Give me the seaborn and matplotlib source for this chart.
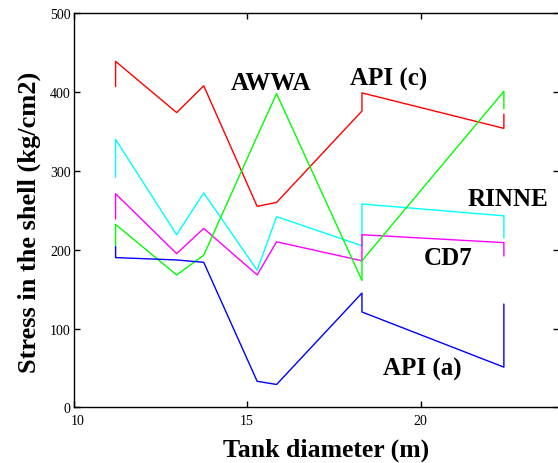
import numpy as np
import pandas as pd
import matplotlib
matplotlib.use('Agg')
import matplotlib.pyplot as plt
import matplotlib.transforms as mtransforms
import seaborn as sns

sns.set_style('ticks')
plt.rcParams['font.family'] = ['Liberation Serif', 'DejaVu Serif']
plt.rcParams['text.color'] = 'black'
plt.rcParams['xtick.color'] = 'black'
plt.rcParams['ytick.color'] = 'black'

# tank diameters (m); each jump is drawn as a vertical step at the same diameter
diam = [11.21, 11.21, 12.97, 13.75, 15.29, 15.85, 18.31, 18.31, 22.40, 22.40]

api_c = [407, 439, 374, 408, 255, 260, 376, 399, 354, 372]
rinne = [292, 340, 219, 272, 174, 242, 205, 258, 243, 215]
cd7 = [239, 271, 195, 227, 168, 210, 186, 219, 209, 192]
awwa = [205, 232, 168, 193, 344, 398, 161, 186, 401, 379]
api_a = [204, 190, 187, 184, 33, 29, 145, 121, 51, 131]

names = ['API (c)', 'RINNE', 'CD7', 'AWWA', 'API (a)']
series = [api_c, rinne, cd7, awwa, api_a]
colors = ['#ff0000', '#00ffff', '#ff00ff', '#00ff00', '#0000ff']

df = pd.concat([pd.DataFrame({'diam': diam, 'stress': s, 'method': n})
                for n, s in zip(names, series)], ignore_index=True)

fig = plt.figure(figsize=(5.58, 4.64), dpi=100)
ax = fig.add_axes([0.1319, 0.12, 0.8706, 0.8492])

sns.lineplot(data=df, x='diam', y='stress', hue='method', palette=dict(zip(names, colors)),
             sort=False, estimator=None, legend=False, linewidth=1.0, ax=ax)

# curve labels (left / baseline position in data units)
labels = {'AWWA': (14.52, 404), 'API (c)': (17.96, 410), 'RINNE': (21.35, 257),
          'CD7': (20.08, 182), 'API (a)': (18.93, 41)}
for txt, (lx, ly) in labels.items():
    ax.text(lx, ly, txt, fontsize=18, fontweight='bold', ha='left', va='baseline',
            color='black')

ax.set_xlim(10, 24)
ax.set_ylim(0, 500)
ax.set_xticks([10, 15, 20])
ax.set_yticks([0, 100, 200, 300, 400, 500])
ax.tick_params(direction='in', length=4.5, width=1, labelsize=10, top=True, right=True)
ax.tick_params(axis='y', pad=2)
ax.tick_params(axis='x', pad=4.5)
for sp in ax.spines.values():
    sp.set_linewidth(1)
    sp.set_color('black')

# the "10" sits a little right of its tick, clear of the "0"
fig.canvas.draw()
first = ax.get_xticklabels()[0]
first.set_transform(first.get_transform() + mtransforms.ScaledTranslation(4 / 100, 0, fig.dpi_scale_trans))

ax.set_xlabel('')
ax.set_ylabel('')
fig.text(326.5 / 558, 1 - 457 / 464, 'Tank diameter (m)', fontsize=18.5, fontweight='bold',
         ha='center', va='baseline')
fig.text(29.5 / 558, 1 - 222.5 / 464, 'Stress in the shell (kg/cm2)', fontsize=19,
         fontweight='bold', rotation=90, ha='center', va='center')

fig.savefig('out.png', dpi=100)
